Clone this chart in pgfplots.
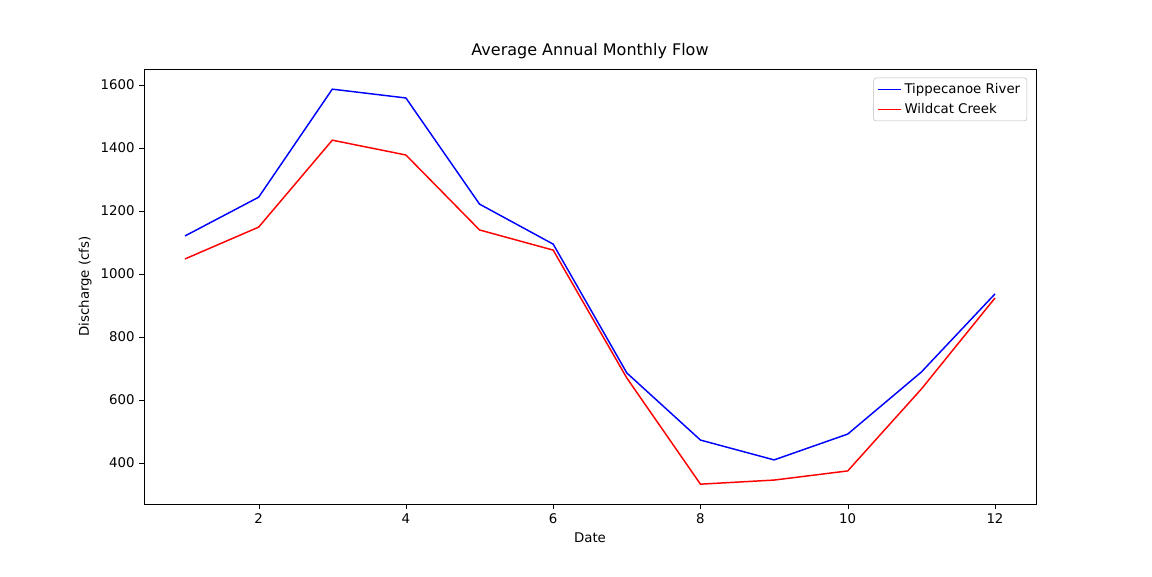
\documentclass[border=0pt]{standalone}
\usepackage{pgfplots}
\pgfplotsset{compat=1.18}
\usepackage{fontspec}
\setmainfont{DejaVu Sans}
\begin{document}
\fontsize{10}{12}\selectfont
\begin{tikzpicture}
\path (0,0) rectangle (864pt,432pt);
\begin{axis}[at={(108pt,54pt)},anchor=south west,scale only axis,
width=669pt,height=326.25pt,
xmin=0.443,xmax=12.557,ymin=270,ymax=1651,
xtick={2,4,...,12},ytick={400,600,...,1600},
tick align=outside,tick style={black},major tick length=3.5pt,
xtick pos=bottom,ytick pos=left,
/pgf/number format/assume math mode=true,
/pgf/number format/1000 sep={},
ticklabel style={font=\fontsize{10}{12}\selectfont},
title={Average Annual Monthly Flow},title style={font=\fontsize{12}{14}\selectfont,yshift=-2pt},
xlabel={Date},ylabel={Discharge (cfs)},
legend style={at={(0.99,0.98)},anchor=north east,draw=black!25,rounded corners=2pt,font=\fontsize{10}{12}\selectfont,row sep=2pt},
legend cell align=left]
\addplot[color=blue,line width=1.1pt,mark=none] coordinates {(1,1121)(2,1244)(3,1587)(4,1559)(5,1222)(6,1095)(7,686)(8,473)(9,410)(10,492)(11,689)(12,937)};
\addlegendentry{Tippecanoe River}
\addplot[color=red,line width=1.1pt,mark=none] coordinates {(1,1048)(2,1149)(3,1425)(4,1378)(5,1140)(6,1076)(7,670)(8,333)(9,346)(10,375)(11,635)(12,924)};
\addlegendentry{Wildcat Creek}
\end{axis}
\end{tikzpicture}
\end{document}
